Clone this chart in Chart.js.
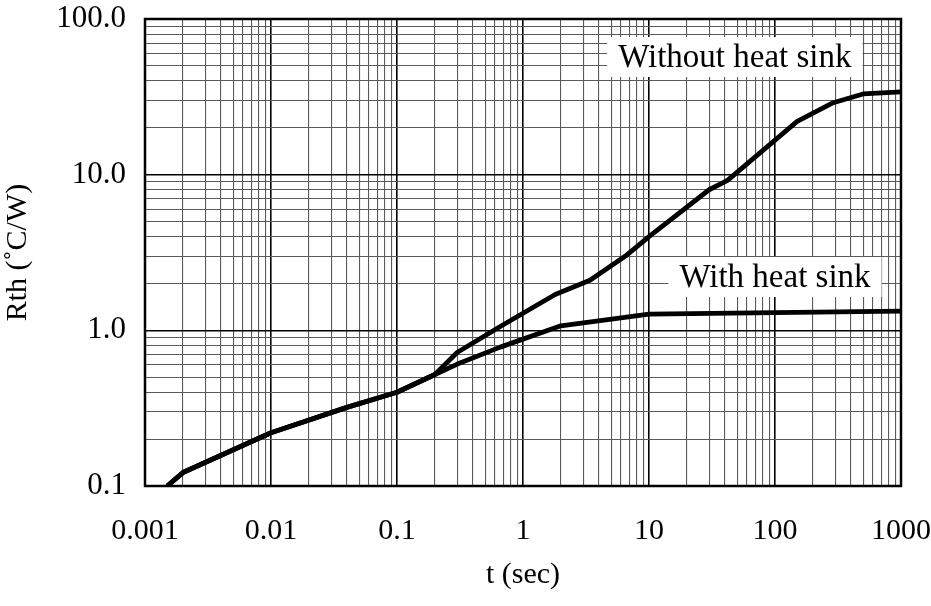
<!DOCTYPE html>
<html>
<head>
<meta charset="utf-8">
<script src="https://cdn.jsdelivr.net/npm/chart.js@4/dist/chart.umd.min.js"></script>
<style>
html,body{margin:0;padding:0;background:#fff}
</style>
</head>
<body>
<canvas id="c" width="931" height="606"></canvas>
<script>
// thermal resistance vs time
const tWithout=[0.0015,0.002,0.01,0.04,0.1,0.2,0.3,0.65,1.8,3.4,6.5,10,30,42,150,290,500,1000]
const rWithout=[0.1,0.122,0.22,0.32,0.40,0.52,0.72,1.05,1.7,2.1,3.0,4.0,8.0,9.2,22,29,33,34]

const tWith=[0.0015,0.002,0.01,0.04,0.1,0.2,0.32,0.66,2,10,1000]
const rWith=[0.1,0.122,0.22,0.32,0.40,0.52,0.62,0.78,1.07,1.27,1.33]

const xDecades=[0.001,0.01,0.1,1,10,100,1000]
const yDecades=[0.1,1,10,100]
const steps=[1,2,3,4,5,6,7,8,9]

const curveLabels=[
    {text:"Without heat sink", t:48, r:57},
    {text:"With heat sink", t:100, r:2.2}
]

function logTicks(decades){
    let out=[]
    decades.forEach((d,i)=>{
        if(i==decades.length-1){ out.push(d); return }
        steps.forEach(s=>out.push(+(d*s).toPrecision(3)))
    })
    return out.map(v=>({value:v}))
}

function isMajor(v){
    const l=Math.log10(v)
    return Math.abs(l-Math.round(l))<1e-9
}

function toPoints(xs,ys){
    return xs.map((x,i)=>({x:x,y:ys[i]}))
}

const serif="'Liberation Serif', 'Times New Roman', serif"
Chart.defaults.font.family=serif
Chart.defaults.color="#000"

const gridOpts={
    drawTicks:false,
    color:ctx=>isMajor(ctx.tick.value)?"#000":"#5a5a5a",
    lineWidth:ctx=>isMajor(ctx.tick.value)?1.6:1.1
}

const frame={
    id:"frame",
    afterDatasetsDraw(chart){
        const ctx=chart.ctx
        const a=chart.chartArea
        const xs=chart.scales.x, ys=chart.scales.y
        ctx.save()
        ctx.font="33px "+serif
        ctx.textAlign="center"
        ctx.textBaseline="middle"
        for (let l of curveLabels){
            const px=xs.getPixelForValue(l.t)
            const py=ys.getPixelForValue(l.r)
            const w=ctx.measureText(l.text).width+22
            ctx.fillStyle="#fff"
            ctx.fillRect(px-w/2,py-20,w,40)
            ctx.fillStyle="#000"
            ctx.fillText(l.text,px,py+1)
        }
        ctx.strokeStyle="#000"
        ctx.lineWidth=2.5
        ctx.strokeRect(a.left,a.top,a.right-a.left,a.bottom-a.top)
        ctx.restore()
    }
}

new Chart(document.getElementById("c"),{
    type:"line",
    data:{
        datasets:[
            {label:"Without heat sink", data:toPoints(tWithout,rWithout)},
            {label:"With heat sink", data:toPoints(tWith,rWith)}
        ]
    },
    options:{
        responsive:false,
        animation:false,
        devicePixelRatio:1,
        layout:{padding:{top:19,right:30,bottom:0,left:0}},
        elements:{
            line:{borderColor:"#000",borderWidth:4.8,tension:0,borderJoinStyle:"round",borderCapStyle:"butt"},
            point:{radius:0}
        },
        plugins:{legend:{display:false},tooltip:{enabled:false}},
        scales:{
            x:{
                type:"logarithmic",
                min:0.001,max:1000,
                afterBuildTicks:s=>{ s.ticks=logTicks(xDecades) },
                afterFit:s=>{ s.height=120; s.paddingLeft=0; s.paddingRight=0 },
                ticks:{
                    autoSkip:false,maxRotation:0,padding:27,
                    font:{size:30},
                    callback:v=>isMajor(v)?String(v):""
                },
                grid:gridOpts,
                border:{display:false},
                title:{display:true,text:"t (sec)",font:{size:30},padding:{top:0,bottom:13}}
            },
            y:{
                type:"logarithmic",
                min:0.1,max:100,
                afterBuildTicks:s=>{ s.ticks=logTicks(yDecades) },
                afterFit:s=>{ s.width=145; s.paddingTop=0; s.paddingBottom=0 },
                ticks:{
                    autoSkip:false,padding:19,
                    font:{size:31},
                    callback:v=>isMajor(v)?v.toFixed(1):""
                },
                grid:gridOpts,
                border:{display:false},
                title:{display:true,text:"Rth (˚C/W)",font:{size:30},padding:{top:0,bottom:0}}
            }
        }
    },
    plugins:[frame]
})
</script>
</body>
</html>
